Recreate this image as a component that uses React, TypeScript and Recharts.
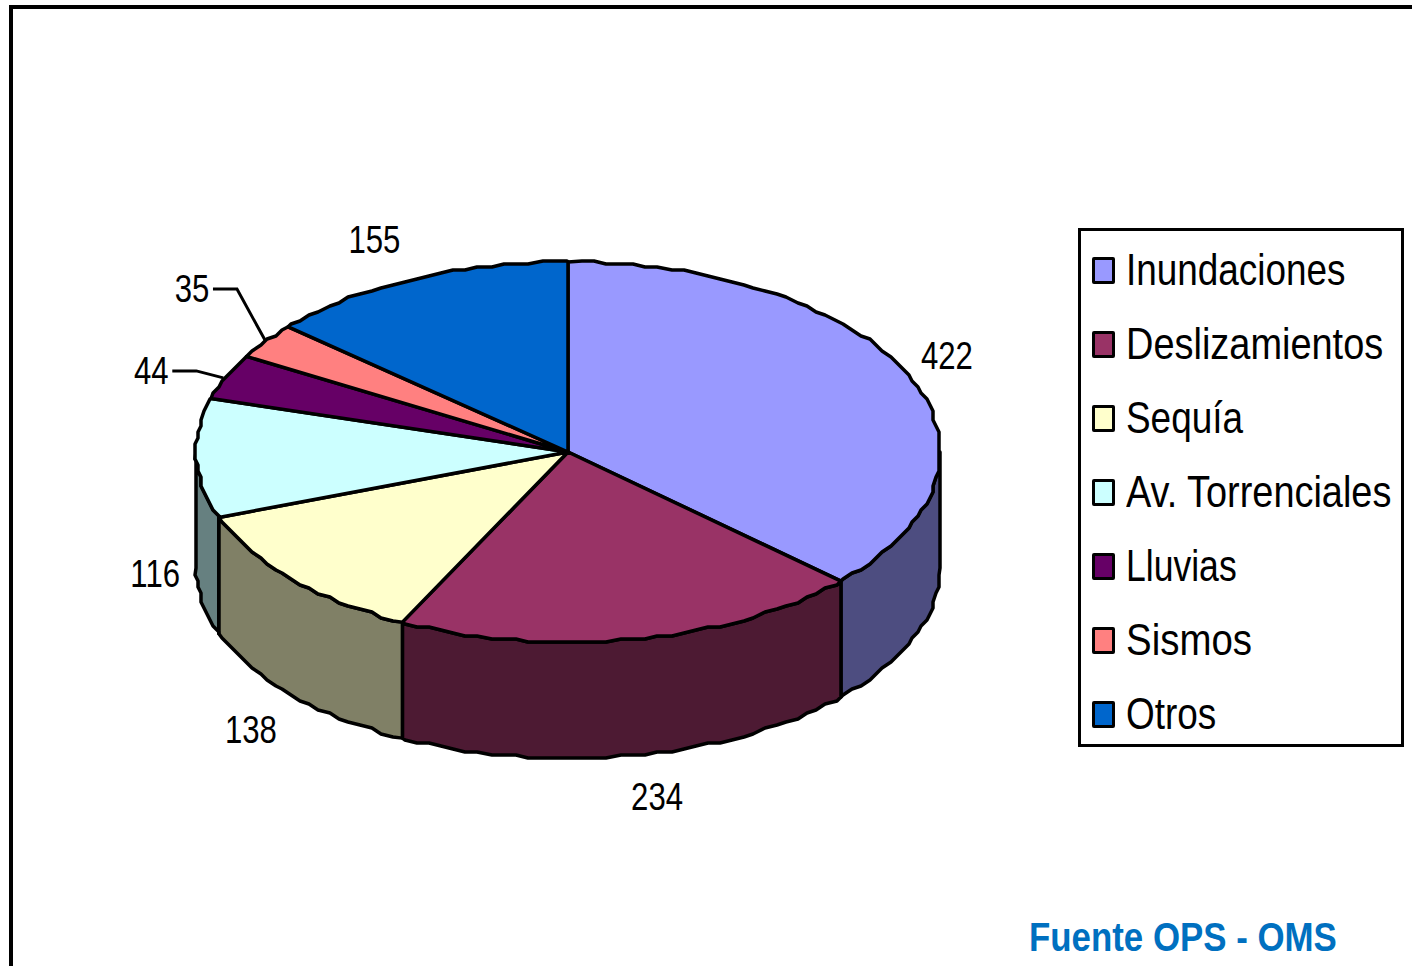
import { PieChart, Pie, Legend } from 'recharts';

const categories = ['Inundaciones', 'Deslizamientos', 'Sequía', 'Av. Torrenciales', 'Lluvias', 'Sismos', 'Otros'];
const values = [422, 234, 138, 116, 44, 35, 155];
const topColors = ['#9999FF', '#993366', '#FFFFCC', '#CCFFFF', '#660066', '#FF8080', '#0066CC'];
const sideColors = ['#4D4D80', '#4D1A33', '#808066', '#668080', '#330033', '#804040', '#003366'];

const tableData = categories.map((name, i) => ({ name, value: values[i], fill: topColors[i] }));

const FONT = '"Liberation Sans", sans-serif';
const NARROW = 0.82; // no narrow face installed, so squeeze the regular one
const legendSqueeze = [0.82, 0.843, 0.82, 0.842, 0.79, 0.854, 0.82];
const SQUASH = 190 / 372;
const DEPTH = 116;
const GRID = 3; // the original outline is a coarse, stepped polygon
const STEP = 2;
const LINE = 3.5;

// label offset from the slice's rim point, and the elbow of its leader line if any
const labelOffsets = [[38, -20], [22, 42], [-40, 35], [-41, 0], [-75, -6], [-74, -52], [-40, -39]];
const leaderOffsets: (number[][] | null)[] = [
  null, null, null, null,
  [[-3, 1], [-30, -6], [-54, -6]],
  [[-1, -1], [-29, -52], [-53, -52]],
  null,
];

const snap = (v: number) => Math.round(v / GRID) * GRID;

function rim(cx: number, cy: number, r: number, deg: number) {
  const a = (deg * Math.PI) / 180;
  return [cx + r * Math.cos(a), cy - r * SQUASH * Math.sin(a)];
}

// angles from a to b (a > b), always passing through multiples of STEP so neighbours share edges
function arcAngles(a: number, b: number) {
  const out = [a];
  for (let d = Math.floor(a / STEP) * STEP; d > b; d -= STEP) {
    if (d < a) out.push(d);
  }
  out.push(b);
  return out;
}

function Slice(props: any) {
  const { cx, cy, outerRadius, startAngle, endAngle, index, fill } = props;
  const top = arcAngles(startAngle, endAngle).map((d, i, arr) => {
    const [x, y] = rim(cx, cy, outerRadius, d);
    return i === 0 || i === arr.length - 1 ? [x, y] : [snap(x), snap(y)];
  });
  const topPath = `M${cx},${cy} L${top.map((p) => p.join(',')).join(' L')} Z`;

  // visible side wall is the part of the rim in the lower half
  const wallStart = Math.min(startAngle, 0);
  const wallEnd = Math.max(endAngle, -180);
  let wall = null;
  if (wallStart > wallEnd) {
    const upper = arcAngles(wallStart, wallEnd).map((d, i, arr) => {
      const [x, y] = rim(cx, cy, outerRadius, d);
      return i === 0 || i === arr.length - 1 ? [x, y] : [snap(x), snap(y)];
    });
    const lower = [...upper].reverse().map(([x, y]) => [x, y + DEPTH]);
    const pts = [...upper, ...lower].map((p) => p.join(',')).join(' ');
    wall = <polygon points={pts} fill={sideColors[index]} stroke="#000" strokeWidth={LINE} strokeLinejoin="round" />;
  }
  return (
    <g>
      {wall}
      <path d={topPath} fill={fill} stroke="#000" strokeWidth={LINE} strokeLinejoin="round" />
    </g>
  );
}

function renderLabel(props: any) {
  const { cx, cy, midAngle, outerRadius, value, index } = props;
  const [rx, ry0] = rim(cx, cy, outerRadius, midAngle);
  const ry = ry0 + (Math.sin((midAngle * Math.PI) / 180) < 0 ? DEPTH : 0);
  const [dx, dy] = labelOffsets[index];
  const leader = leaderOffsets[index];
  return (
    <g key={index}>
      {leader && (
        <polyline
          points={leader.map(([lx, ly]) => `${rx + lx},${ry + ly}`).join(' ')}
          fill="none"
          stroke="#000"
          strokeWidth={LINE - 0.5}
        />
      )}
      <text
        transform={`translate(${rx + dx},${ry + dy}) scale(${NARROW},1)`}
        textAnchor="middle"
        dominantBaseline="central"
        fontFamily={FONT}
        fontSize={38}
        fill="#000"
      >
        {value}
      </text>
    </g>
  );
}

function LegendBox(props: any) {
  const { payload } = props;
  return (
    <div style={{ width: 326, height: 519, boxSizing: 'border-box', border: '3px solid #000', background: '#fff', position: 'relative' }}>
      {(payload || []).map((item: any, i: number) => (
        <div key={item.value} style={{ position: 'absolute', left: 0, top: 2 + i * 74, height: 74, width: 320, display: 'flex', alignItems: 'center' }}>
          <span style={{ flexShrink: 0, width: 23, height: 27, boxSizing: 'border-box', marginLeft: 11, border: '3px solid #000', borderRadius: 2, background: item.color }} />
          <span style={{ flexShrink: 0, marginLeft: 11, fontFamily: FONT, fontSize: 45, lineHeight: '74px', color: '#000', whiteSpace: 'nowrap', transform: `scaleX(${legendSqueeze[i]})`, transformOrigin: 'left center' }}>{item.value}</span>
        </div>
      ))}
    </div>
  );
}

export default function App() {
  return (
    <div style={{ position: 'absolute', left: 0, top: 0, width: 1412, height: 966, overflow: 'hidden', background: '#fff' }}>
      <div style={{ position: 'absolute', left: 9, top: 5, width: 1403, height: 961, boxSizing: 'border-box', borderTop: '4px solid #000', borderLeft: '4px solid #000' }} />
      <PieChart width={1412} height={966} margin={{ top: 0, right: 0, bottom: 0, left: 0 }}>
        <Pie
          data={tableData}
          dataKey="value"
          nameKey="name"
          cx={568}
          cy={452}
          outerRadius={372}
          startAngle={90}
          endAngle={-270}
          stroke="#000"
          shape={Slice}
          label={renderLabel}
          labelLine={false}
          isAnimationActive={false}
        />
        <Legend content={LegendBox} itemSorter={null} wrapperStyle={{ position: 'absolute', left: 1078, top: 228, width: 326, height: 519 }} />
      </PieChart>
      <div style={{ position: 'absolute', left: 1029, top: 912, fontFamily: FONT, fontWeight: 700, fontSize: 41, lineHeight: '50px', color: '#0070C0', whiteSpace: 'nowrap', transform: `scaleX(${NARROW + 0.03})`, transformOrigin: 'left center' }}>
        Fuente OPS - OMS
      </div>
    </div>
  );
}
